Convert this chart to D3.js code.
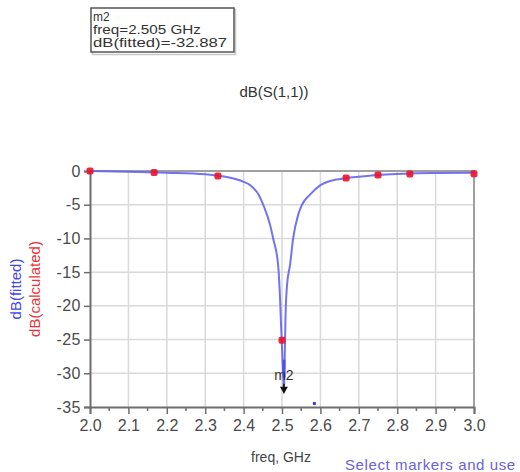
<!DOCTYPE html>
<html>
<head>
<meta charset="utf-8">
<script src="https://cdn.jsdelivr.net/npm/d3@7"></script>
<style>
  body { margin: 0; background: #fff; }
  text { font-family: Arial, "Liberation Sans", sans-serif; }
</style>
</head>
<body>
<div id="canvas"></div>
<script>

// fitted curve
var fittedFreq = [2.0, 2.1, 2.2, 2.3, 2.333, 2.365, 2.4, 2.417, 2.44, 2.451, 2.469, 2.477, 2.49, 2.495, 2.499, 2.503, 2.505,
                  2.507, 2.509, 2.513, 2.521, 2.529, 2.542, 2.552, 2.573, 2.6, 2.638, 2.667, 2.7, 2.75, 2.8, 2.85, 2.9, 3.0];
var fittedDb = [0, -0.1, -0.25, -0.5, -0.7, -1.0, -1.6, -2.1, -3.6, -5, -8, -10, -14, -19, -25, -30, -32.9,
                -28, -22, -17, -13.9, -10, -6.5, -5, -3.5, -2.1, -1.3, -1.05, -0.85, -0.6, -0.45, -0.35, -0.3, -0.25];

// calculated points
var calcFreq = [2.0, 2.167, 2.333, 2.5, 2.667, 2.75, 2.833, 3.0];
var calcDb = [0, -0.22, -0.75, -25.1, -1.05, -0.6, -0.45, -0.42];

var xTicks = [2.0, 2.1, 2.2, 2.3, 2.4, 2.5, 2.6, 2.7, 2.8, 2.9, 3.0];
var yTicks = [0, -5, -10, -15, -20, -25, -30, -35];

var markerName = 'm2';
var markerFreq = 2.505;
var markerDb = -32.887;

svg = d3.select('#canvas').append('svg')
  .attr('width', 520)
  .attr('height', 472);

x = d3.scaleLinear().domain([2.0, 3.0]).range([90, 474]);
y = d3.scaleLinear().domain([0, -35]).range([171, 407]);

// grid
svg.append('g').selectAll('line').data(xTicks.slice(1, -1)).join('line')
  .attr('x1', d => x(d)).attr('x2', d => x(d))
  .attr('y1', y(0)).attr('y2', y(-35))
  .attr('stroke', '#d9d9d9').attr('stroke-width', 1.5);
svg.append('g').selectAll('line').data(yTicks.slice(1, -1)).join('line')
  .attr('x1', x(2.0)).attr('x2', x(3.0))
  .attr('y1', d => y(d)).attr('y2', d => y(d))
  .attr('stroke', '#d9d9d9').attr('stroke-width', 1.5);

// frame: top and right lighter
svg.append('path')
  .attr('d', 'M' + x(2.0) + ' ' + y(0) + ' H ' + x(3.0) + ' V ' + y(-35))
  .attr('fill', 'none').attr('stroke', '#a0a0a0').attr('stroke-width', 2);

// axes
var yAxis = d3.axisLeft(y).tickValues(yTicks).tickSize(6).tickPadding(3).tickFormat(d3.format('d'));
svg.append('g')
  .attr('transform', 'translate(' + x(2.0) + ',0)')
  .call(yAxis)
  .call(g => g.select('.domain').attr('stroke', '#6e6e6e').attr('stroke-width', 2))
  .call(g => g.selectAll('.tick line').attr('stroke', '#6e6e6e').attr('stroke-width', 1.5))
  .call(g => g.selectAll('.tick text').attr('fill', '#4a4a4a').style('font-size', '16px')
    .style('letter-spacing', '0.5px').text(d => d == 0 ? '0' : '-' + Math.abs(d)));

var minorTicks = d3.range(20, 30).map(d => d / 10 + 0.05);
svg.append('g').selectAll('line').data(minorTicks).join('line')
  .attr('x1', d => x(d)).attr('x2', d => x(d))
  .attr('y1', y(-35)).attr('y2', y(-35) + 4)
  .attr('stroke', '#6e6e6e').attr('stroke-width', 1.5);

var xAxis = d3.axisBottom(x).tickValues(xTicks).tickSize(7).tickPadding(6).tickFormat(d3.format('.1f'));
svg.append('g')
  .attr('transform', 'translate(0,' + y(-35) + ')')
  .call(xAxis)
  .call(g => g.select('.domain').attr('stroke', '#6e6e6e').attr('stroke-width', 2))
  .call(g => g.selectAll('.tick line').attr('stroke', '#6e6e6e').attr('stroke-width', 1.5))
  .call(g => g.selectAll('.tick text').attr('fill', '#4a4a4a').style('font-size', '16px'));

// fitted line
var fitted = fittedFreq.map((f, i) => [f, fittedDb[i]]);
line = d3.line().x(d => x(d[0])).y(d => y(d[1])).curve(d3.curveMonotoneX);
svg.append('path')
  .datum(fitted)
  .attr('d', line)
  .attr('fill', 'none')
  .attr('stroke', '#6464ee')
  .attr('stroke-width', 2)
  .attr('stroke-opacity', 0.9);

// calculated points
var calc = calcFreq.map((f, i) => [f, calcDb[i]]);
svg.append('g').selectAll('rect').data(calc).join('rect')
  .attr('x', d => x(d[0]) - 3.5).attr('y', d => y(d[1]) - 3.5)
  .attr('width', 7).attr('height', 7).attr('rx', 2)
  .attr('fill', '#e8142c').attr('fill-opacity', 0.9);

// stray dot
svg.append('rect').attr('x', x(2.583) - 1).attr('y', y(-34.4) - 1)
  .attr('width', 3).attr('height', 3).attr('fill', '#3a3aee');

// marker
svg.append('line')
  .attr('x1', x(markerFreq)).attr('x2', x(markerFreq))
  .attr('y1', y(-28)).attr('y2', y(-30.6))
  .attr('stroke', '#5050f0').attr('stroke-width', 3);
svg.append('text')
  .attr('x', x(markerFreq)).attr('y', y(-30.2) + 5)
  .attr('text-anchor', 'middle')
  .style('font-size', '14px').attr('fill', '#333')
  .text(markerName);
svg.append('path')
  .attr('d', 'M' + (x(markerFreq) - 4) + ' ' + (y(markerDb) - 6) + ' h 8 l -4 7 z')
  .attr('fill', '#111');
svg.append('line')
  .attr('x1', x(markerFreq)).attr('x2', x(markerFreq))
  .attr('y1', y(markerDb) - 9).attr('y2', y(markerDb) - 4)
  .attr('stroke', '#111').attr('stroke-width', 1.5);

// marker readout box
box = svg.append('g').attr('transform', 'translate(91,8)');
box.append('rect')
  .attr('x', 1.5).attr('y', 1.5).attr('width', 143).attr('height', 45)
  .attr('fill', 'none').attr('stroke', '#c8c8c8').attr('stroke-width', 1.5);
box.append('rect')
  .attr('width', 143).attr('height', 44)
  .attr('fill', '#fff').attr('stroke', '#555').attr('stroke-width', 1.5);
var boxLines = [markerName, 'freq=' + markerFreq + ' GHz', 'dB(fitted)=' + markerDb];
var boxWidths = [null, 108, 134];
boxLines.forEach(function(t, i) {
  var tx = box.append('text')
    .attr('x', 2).attr('y', 13 + i * 13)
    .style('font-size', '12px').attr('fill', '#333')
    .text(t);
  if (boxWidths[i]) tx.attr('textLength', boxWidths[i]).attr('lengthAdjust', 'spacingAndGlyphs');
});

// titles
svg.append('text')
  .attr('x', 274).attr('y', 97)
  .attr('text-anchor', 'middle')
  .style('font-size', '15px').attr('fill', '#333')
  .text('dB(S(1,1))');

svg.append('text')
  .attr('x', 281).attr('y', 462)
  .attr('text-anchor', 'middle')
  .style('font-size', '14px').attr('fill', '#444')
  .text('freq, GHz');

svg.append('text')
  .attr('x', 345).attr('y', 470)
  .style('font-size', '15px').style('letter-spacing', '0.6px').attr('fill', '#6a62d8')
  .text('Select markers and use');

svg.append('text')
  .attr('transform', 'translate(21,289) rotate(-90)')
  .attr('text-anchor', 'middle')
  .style('font-size', '15px').attr('fill', '#4646e8')
  .text('dB(fitted)');
svg.append('text')
  .attr('transform', 'translate(40,289) rotate(-90)')
  .attr('text-anchor', 'middle')
  .style('font-size', '15px').attr('fill', '#e8323c')
  .text('dB(calculated)');

</script>
</body>
</html>
